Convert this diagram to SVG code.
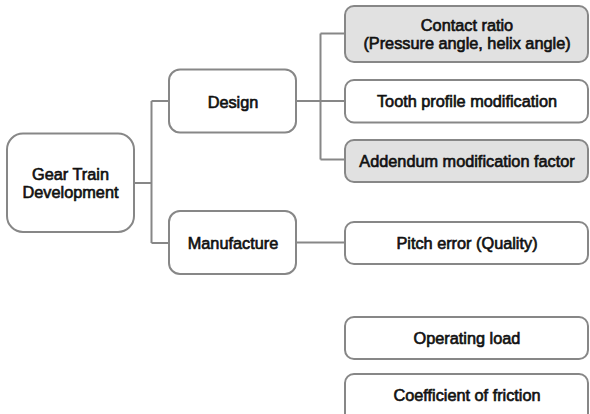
<svg xmlns="http://www.w3.org/2000/svg" width="590" height="414" viewBox="0 0 590 414">
  <style>
    .box { fill: #ffffff; stroke: #878787; stroke-width: 2; }
    .box.shaded { fill: #e1e1e1; }
    .lbl { font-family: "Liberation Sans", Arial, sans-serif; font-size: 16.3px; fill: #111111; stroke: #111111; stroke-width: 0.65; text-anchor: middle; }
    .wire { fill: none; stroke: #878787; stroke-width: 2; }
  </style>
  <rect width="590" height="414" fill="#ffffff"/>

  <g id="connectors">
    <path class="wire" d="M134,183 H151.5 M151.5,101 V243 M151.5,101 H169 M151.5,243 H169"/>
    <path class="wire" d="M296,101 H320.5 M320.5,33.5 V159.5 M320.5,33.5 H345 M320.5,101 H345 M320.5,159.5 H345"/>
    <path class="wire" d="M296,242.5 H345"/>
  </g>

  <g id="gear-train-development">
    <rect class="box" x="7" y="133.5" width="127" height="98.5" rx="16"/>
    <text class="lbl" x="70.5" y="180">Gear Train</text>
    <text class="lbl" x="70.5" y="198">Development</text>
  </g>

  <g id="design">
    <rect class="box" x="169" y="69.5" width="127" height="63" rx="11"/>
    <text class="lbl" x="233" y="108">Design</text>
  </g>

  <g id="manufacture">
    <rect class="box" x="169" y="211" width="127" height="63" rx="11"/>
    <text class="lbl" x="233" y="249">Manufacture</text>
  </g>

  <g id="contact-ratio">
    <rect class="box shaded" x="345" y="6" width="243" height="56" rx="9"/>
    <text class="lbl" x="467" y="31">Contact ratio</text>
    <text class="lbl" x="467" y="49">(Pressure angle, helix angle)</text>
  </g>

  <g id="tooth-profile-modification">
    <rect class="box" x="345" y="80" width="243" height="42.5" rx="9"/>
    <text class="lbl" x="467" y="107">Tooth profile modification</text>
  </g>

  <g id="addendum-modification-factor">
    <rect class="box shaded" x="345" y="140" width="243" height="42" rx="9"/>
    <text class="lbl" x="467" y="166.5">Addendum modification factor</text>
  </g>

  <g id="pitch-error">
    <rect class="box" x="345" y="222" width="243" height="42" rx="9"/>
    <text class="lbl" x="467" y="248.5">Pitch error (Quality)</text>
  </g>

  <g id="operating-load">
    <rect class="box" x="345" y="317" width="243" height="42" rx="9"/>
    <text class="lbl" x="467" y="344">Operating load</text>
  </g>

  <g id="coefficient-of-friction">
    <rect class="box" x="345" y="374" width="243" height="50" rx="9"/>
    <text class="lbl" x="467" y="400.5">Coefficient of friction</text>
  </g>
</svg>
